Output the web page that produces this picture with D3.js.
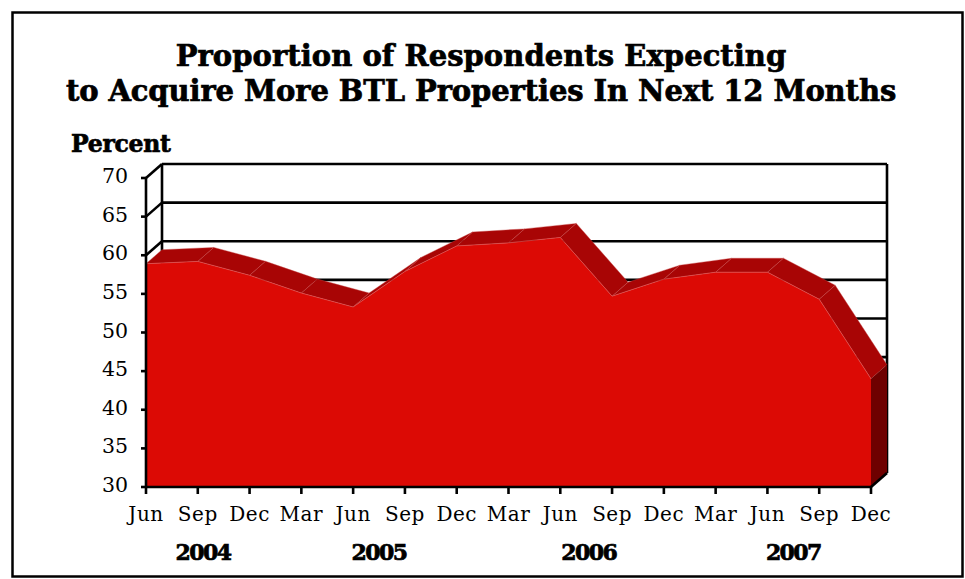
<!DOCTYPE html>
<html>
<head>
<meta charset="utf-8">
<script src="https://cdnjs.cloudflare.com/ajax/libs/d3/7.8.5/d3.min.js"></script>
<style>
html, body { margin: 0; padding: 0; background: #fff; }
svg { display: block; }
text { font-family: "DejaVu Serif", serif; fill: #000; }
.heavy { stroke: #000; stroke-width: 0.7; font-weight: bold; }
</style>
</head>
<body>
<svg id="chart" width="965" height="579"></svg>
<script>
// Quarterly survey readings, percent of respondents
const quarters = ["Jun","Sep","Dec","Mar","Jun","Sep","Dec","Mar","Jun","Sep","Dec","Mar","Jun","Sep","Dec"];
const percent = [58.9,59.2,57.4,55.1,53.3,57.9,61.2,61.6,62.3,54.7,56.9,57.8,57.8,54.3,44.0];
const yTicks = [30,35,40,45,50,55,60,65,70];
const years = ["2004","2005","2006","2007"];
const yearAnchors = [1.1,4.5,8.55,12.5];
const titleLines = ["Proportion of Respondents Expecting","to Acquire More BTL Properties In Next 12 Months"];

const svg = d3.select("#chart");

// Depth of the pseudo-3D box
const depthX = 16, depthY = -14;

const idx = d3.range(quarters.length);
const x = d3.scalePoint().domain(idx).range([146, 871]);
const y = d3.scaleLinear().domain([30, 70]).range([487, 178]);

// Outer frame
svg.append("rect").attr("x", 12.5).attr("y", 12.5).attr("width", 950).attr("height", 564)
  .attr("fill", "#fff").attr("stroke", "#000").attr("stroke-width", 2.5);

// Title
svg.append("g").selectAll("text").data(titleLines).join("text")
  .attr("class", "heavy")
  .attr("x", 481).attr("y", (d, i) => 66 + i * 35)
  .attr("text-anchor", "middle").attr("font-size", 29).attr("letter-spacing", (d, i) => i ? -0.1 : 0.05)
  .text(d => d);

svg.append("text").attr("class", "heavy").attr("x", 71).attr("y", 152)
  .attr("font-size", 23.5).attr("letter-spacing", -0.3).text("Percent");

// Back wall and gridlines, with their diagonals to the front axis
const grid = svg.append("g").attr("stroke", "#000").attr("stroke-width", 2.6).attr("fill", "none");
grid.selectAll("line.h").data(yTicks).join("line").attr("class", "h")
  .attr("x1", x(0) + depthX).attr("x2", x(14) + depthX)
  .attr("y1", d => y(d) + depthY).attr("y2", d => y(d) + depthY);
grid.selectAll("line.d").data(yTicks).join("line").attr("class", "d")
  .attr("x1", x(0)).attr("x2", x(0) + depthX)
  .attr("y1", d => y(d)).attr("y2", d => y(d) + depthY);
grid.append("line").attr("x1", x(0) + depthX).attr("x2", x(0) + depthX)
  .attr("y1", y(70) + depthY).attr("y2", y(30) + depthY);
grid.append("line").attr("x1", x(14) + depthX).attr("x2", x(14) + depthX)
  .attr("y1", y(70) + depthY).attr("y2", y(30) + depthY);

// Top faces of the extruded area, one per quarter-to-quarter segment
const faces = svg.append("g");
faces.selectAll("path").data(d3.pairs(idx)).join("path")
  .attr("d", ([a, b]) => {
    const p = d3.path();
    p.moveTo(x(a), y(percent[a]));
    p.lineTo(x(b), y(percent[b]));
    p.lineTo(x(b) + depthX, y(percent[b]) + depthY);
    p.lineTo(x(a) + depthX, y(percent[a]) + depthY);
    p.closePath();
    return p.toString();
  })
  .attr("fill", "#a80505").attr("stroke", "#c84a4a").attr("stroke-width", 0.4);

// Right-hand end cap
const last = idx[idx.length - 1];
svg.append("path")
  .attr("d", d3.line()([
    [x(last), y(percent[last])],
    [x(last) + depthX, y(percent[last]) + depthY],
    [x(last) + depthX, y(30) + depthY],
    [x(last), y(30)]
  ]) + "Z")
  .attr("fill", "#6e0000");

// Front face
svg.append("path").datum(idx)
  .attr("d", d3.area().x(i => x(i)).y0(y(30)).y1(i => y(percent[i])))
  .attr("fill", "#dc0a05");
svg.append("path").datum(idx)
  .attr("d", d3.line().x(i => x(i)).y(i => y(percent[i])))
  .attr("fill", "none").attr("stroke", "#e06060").attr("stroke-width", 0.5);

// Front axes
const axes = svg.append("g").attr("stroke", "#000").attr("stroke-width", 2.6).attr("fill", "none");
axes.append("line").attr("x1", x(0)).attr("x2", x(0)).attr("y1", y(70)).attr("y2", y(30) + 1);
axes.append("line").attr("x1", x(0)).attr("x2", x(last)).attr("y1", y(30)).attr("y2", y(30));
axes.append("line").attr("x1", x(last)).attr("x2", x(last) + depthX)
  .attr("y1", y(30)).attr("y2", y(30) + depthY);
axes.selectAll("line.ty").data(yTicks).join("line").attr("class", "ty")
  .attr("x1", x(0) - 5).attr("x2", x(0)).attr("y1", d => y(d)).attr("y2", d => y(d));
axes.selectAll("line.tx").data(idx).join("line").attr("class", "tx")
  .attr("x1", d => x(d)).attr("x2", d => x(d)).attr("y1", y(30)).attr("y2", y(30) + 7);

// Tick labels
svg.append("g").selectAll("text").data(yTicks).join("text")
  .attr("x", 128).attr("y", d => y(d) + 5).attr("text-anchor", "end")
  .attr("font-size", 20.5).text(d => d);
svg.append("g").selectAll("text").data(idx).join("text")
  .attr("x", d => x(d)).attr("y", 521).attr("text-anchor", "middle")
  .attr("font-size", 20).attr("letter-spacing", 0.5).text(d => quarters[d]);

// Year labels
svg.append("g").selectAll("text").data(years).join("text")
  .attr("class", "heavy")
  .attr("x", (d, i) => x(0) + yearAnchors[i] * x.step()).attr("y", 560).attr("text-anchor", "middle")
  .attr("font-size", 22).attr("letter-spacing", -1.6).text(d => d);
</script>
</body>
</html>
